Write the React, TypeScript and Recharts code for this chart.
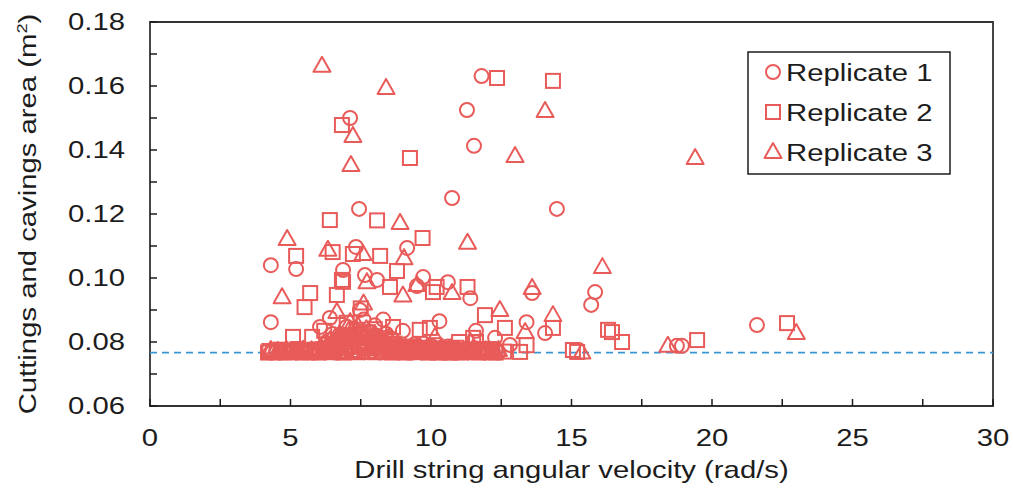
import React from "react";
import {
  ScatterChart,
  Scatter,
  XAxis,
  YAxis,
  ReferenceLine,
  ReferenceArea,
} from "recharts";

// axis ticks (minor every 2.5 / 0.01, labels on the majors)
const X_TICKS = [0, 2.5, 5, 7.5, 10, 12.5, 15, 17.5, 20, 22.5, 25, 27.5, 30];
const X_LABELS = [0, 5, 10, 15, 20, 25, 30];
const Y_TICKS = [0.06, 0.07, 0.08, 0.09, 0.1, 0.11, 0.12, 0.13, 0.14, 0.15, 0.16, 0.17, 0.18];
const Y_LABELS = [0.06, 0.08, 0.1, 0.12, 0.14, 0.16, 0.18];
const BASELINE = 0.0767;

const SERIES_NAMES = ["Replicate 1", "Replicate 2", "Replicate 3"];

// [angular velocity, area]
const rep1: [number, number][] = [
  [11.8, 0.1631], [11.28, 0.1525], [7.12, 0.15], [11.53, 0.1413], [10.75, 0.125],
  [14.48, 0.1216], [7.44, 0.1216], [7.33, 0.1097], [9.15, 0.1094], [4.3, 0.104],
  [5.2, 0.1028], [6.87, 0.1025], [7.65, 0.1009], [8.08, 0.0994], [9.72, 0.1003],
  [10.6, 0.0987], [9.5, 0.0975], [11.4, 0.0937], [13.6, 0.0953], [15.84, 0.0956],
  [15.7, 0.0916], [13.4, 0.0862], [14.06, 0.0828], [12.28, 0.0813], [12.81, 0.0791],
  [18.75, 0.0788], [18.93, 0.0788], [21.6, 0.0853], [4.3, 0.0862], [7.47, 0.09],
  [6.4, 0.0875], [6.05, 0.0847], [8.3, 0.087], [10.3, 0.0865], [11.6, 0.0835], [9.0, 0.0835],
  [4.3, 0.0767], [4.6, 0.0767], [4.9, 0.0768], [5.2, 0.0767], [5.5, 0.0769], [5.8, 0.0767],
  [6.0, 0.0772], [6.2, 0.0768], [6.4, 0.0776], [6.6, 0.0767], [6.7, 0.0783], [6.8, 0.077],
  [6.9, 0.0792], [7.0, 0.0768], [7.1, 0.0778], [7.2, 0.0802], [7.3, 0.077], [7.4, 0.0786],
  [7.5, 0.0815], [7.6, 0.0768], [7.7, 0.0796], [7.8, 0.0832], [7.9, 0.0772], [8.0, 0.0785],
  [8.1, 0.0806], [8.2, 0.0767], [8.3, 0.079], [8.5, 0.0772], [8.6, 0.081], [8.8, 0.0768],
  [9.0, 0.078], [9.2, 0.0767], [9.4, 0.0792], [9.6, 0.077], [9.8, 0.0782], [10.0, 0.0767],
  [10.2, 0.0775], [10.4, 0.0768], [10.6, 0.0786], [10.8, 0.0767], [11.0, 0.0776], [11.3, 0.0768],
  [11.6, 0.078], [11.9, 0.0767], [12.2, 0.0772], [12.4, 0.0767], [6.5, 0.0825], [7.0, 0.0848],
  [7.6, 0.087], [8.0, 0.0852], [6.8, 0.0815], [8.4, 0.0826], [7.3, 0.0835],
  [4.35, 0.0772], [4.75, 0.0775], [5.05, 0.0772], [5.35, 0.0776], [5.65, 0.0772], [5.95, 0.0778],
  [6.25, 0.0782], [6.45, 0.079], [6.65, 0.08], [6.85, 0.0808], [7.05, 0.0812], [7.25, 0.0822],
  [7.45, 0.0828], [7.65, 0.0818], [7.85, 0.081], [8.05, 0.082], [8.25, 0.0805], [8.45, 0.0795],
  [8.65, 0.0785], [8.85, 0.079], [9.05, 0.0772], [9.25, 0.0785], [9.45, 0.0772], [9.65, 0.078],
  [9.85, 0.0772], [10.05, 0.0785], [10.25, 0.077], [10.45, 0.0778], [10.65, 0.0772], [10.85, 0.078],
  [11.05, 0.077], [11.25, 0.0778], [11.45, 0.077], [11.75, 0.0775], [12.05, 0.077], [12.3, 0.0778],
];

const rep2: [number, number][] = [
  [12.35, 0.1625], [14.34, 0.1616], [6.83, 0.1478], [9.25, 0.1375], [6.4, 0.1181],
  [8.08, 0.118], [9.7, 0.1125], [5.2, 0.1069], [6.5, 0.1081], [7.22, 0.1075],
  [8.19, 0.1069], [6.83, 0.0994], [8.79, 0.1022], [8.54, 0.0972], [5.7, 0.0953],
  [5.5, 0.0909], [6.65, 0.0947], [6.87, 0.0988], [10.2, 0.0972], [11.3, 0.0972],
  [10.07, 0.0956], [11.92, 0.0884], [12.63, 0.0844], [14.34, 0.0844], [11.5, 0.0813],
  [11.0, 0.08], [16.3, 0.0838], [16.44, 0.0831], [16.8, 0.08], [13.17, 0.0769],
  [15.05, 0.0775], [15.2, 0.0769], [19.47, 0.0806], [22.67, 0.0859], [5.09, 0.0816],
  [5.77, 0.0816], [8.65, 0.0847], [9.96, 0.0844], [9.6, 0.0838], [7.5, 0.0905],
  [11.6, 0.08], [13.4, 0.079],
  [4.2, 0.0767], [4.5, 0.0768], [4.8, 0.0767], [5.1, 0.077], [5.4, 0.0767], [5.7, 0.0768],
  [6.0, 0.0767], [6.3, 0.078], [6.5, 0.0768], [6.7, 0.0792], [6.9, 0.0767], [7.1, 0.0805],
  [7.2, 0.0775], [7.4, 0.0768], [7.5, 0.0822], [7.7, 0.078], [7.9, 0.08], [8.0, 0.0768],
  [8.2, 0.0812], [8.4, 0.0776], [8.6, 0.0767], [8.7, 0.0795], [8.9, 0.0772], [9.1, 0.0767],
  [9.3, 0.0785], [9.5, 0.0768], [9.7, 0.0778], [9.9, 0.0767], [10.1, 0.079], [10.3, 0.0767],
  [10.5, 0.0772], [10.7, 0.0767], [10.9, 0.0782], [11.1, 0.0767], [11.4, 0.0774], [11.7, 0.0767],
  [12.0, 0.0778], [12.3, 0.0767], [12.6, 0.077], [6.2, 0.0835], [7.0, 0.086], [8.0, 0.084],
  [4.25, 0.0772], [4.65, 0.0776], [4.95, 0.0772], [5.25, 0.0778], [5.55, 0.0772], [5.85, 0.0776],
  [6.15, 0.0775], [6.35, 0.0795], [6.55, 0.0805], [6.75, 0.078], [6.95, 0.082], [7.15, 0.079],
  [7.35, 0.0838], [7.55, 0.08], [7.75, 0.083], [7.95, 0.079], [8.15, 0.0795], [8.35, 0.081],
  [8.55, 0.078], [8.75, 0.0775], [8.95, 0.0785], [9.15, 0.0778], [9.35, 0.077], [9.55, 0.0782],
  [9.75, 0.077], [9.95, 0.0778], [10.15, 0.0772], [10.35, 0.078], [10.55, 0.0768], [10.75, 0.0776],
  [10.95, 0.077], [11.25, 0.0772], [11.55, 0.0776], [11.85, 0.0772], [12.15, 0.0768],
];

const rep3: [number, number][] = [
  [6.12, 0.1663], [8.4, 0.1594], [14.06, 0.1522], [7.22, 0.1444], [12.99, 0.1381],
  [19.4, 0.1375], [7.15, 0.1353], [8.9, 0.1172], [4.88, 0.1122], [11.3, 0.111],
  [6.33, 0.1088], [7.58, 0.1075], [9.04, 0.1062], [16.1, 0.1034], [7.72, 0.0987],
  [9.5, 0.0978], [13.6, 0.0969], [4.7, 0.094], [10.75, 0.0953], [12.45, 0.09],
  [14.34, 0.0884], [13.35, 0.0831], [10.14, 0.0816], [15.37, 0.0767], [18.43, 0.0788],
  [23.0, 0.0828], [9.0, 0.0945], [6.65, 0.0894], [7.12, 0.0862], [7.6, 0.092], [11.4, 0.08],
  [4.4, 0.0768], [4.7, 0.0767], [5.0, 0.0769], [5.3, 0.0767], [5.6, 0.0768], [5.9, 0.077],
  [6.1, 0.0767], [6.3, 0.0786], [6.5, 0.0772], [6.6, 0.08], [6.8, 0.0767], [6.9, 0.0815],
  [7.0, 0.0782], [7.2, 0.0835], [7.3, 0.0767], [7.4, 0.085], [7.6, 0.079], [7.8, 0.0767],
  [7.9, 0.0815], [8.1, 0.078], [8.3, 0.0767], [8.4, 0.08], [8.6, 0.077], [8.8, 0.079],
  [9.0, 0.0767], [9.2, 0.0776], [9.4, 0.0767], [9.6, 0.0785], [9.8, 0.0768], [10.0, 0.0778],
  [10.2, 0.0767], [10.4, 0.0782], [10.6, 0.0767], [10.9, 0.0772], [11.2, 0.0767], [11.5, 0.078],
  [11.8, 0.0768], [12.1, 0.0767], [12.4, 0.0775],
  [4.3, 0.0775], [4.55, 0.0772], [4.85, 0.0776], [5.15, 0.0772], [5.45, 0.0776], [5.75, 0.0774],
  [6.05, 0.078], [6.2, 0.0795], [6.4, 0.0805], [6.6, 0.0815], [6.75, 0.0825], [6.95, 0.08],
  [7.1, 0.084], [7.3, 0.0812], [7.5, 0.08], [7.7, 0.084], [7.9, 0.079], [8.0, 0.0825],
  [8.2, 0.079], [8.5, 0.0815], [8.7, 0.0778], [8.9, 0.0772], [9.1, 0.0782], [9.3, 0.0772],
  [9.5, 0.0778], [9.7, 0.0768], [9.9, 0.0782], [10.1, 0.0772], [10.3, 0.0776], [10.5, 0.0768],
  [10.7, 0.078], [11.0, 0.0772], [11.3, 0.0776], [11.6, 0.077], [11.95, 0.0774], [12.25, 0.0768],
];

const RED = "#e85b59";
const INK = "#1c1c1c";
const FONT = "'Liberation Sans', Arial, sans-serif";
const STRETCH = 1.22;

const toPts = (arr: [number, number][]) => arr.map(([x, y]) => ({ x, y }));

function SText({ x, y, anchor = "start", size = 24, rotate, children }: any) {
  const t = `translate(${x},${y})${rotate ? ` rotate(${rotate})` : ""} scale(${STRETCH},1)`;
  return (
    <text transform={t} textAnchor={anchor} fontSize={size} fontFamily={FONT} fill={INK}>
      {children}
    </text>
  );
}

const Circle = ({ cx, cy }: any) => (
  <circle cx={cx} cy={cy} r={7} fill="none" stroke={RED} strokeWidth={2} />
);
const Square = ({ cx, cy }: any) => (
  <rect x={cx - 7} y={cy - 7} width={14} height={14} fill="none" stroke={RED} strokeWidth={2} />
);
const Triangle = ({ cx, cy }: any) => (
  <polygon
    points={`${cx},${cy - 9} ${cx - 8.5},${cy + 6} ${cx + 8.5},${cy + 6}`}
    fill="none"
    stroke={RED}
    strokeWidth={2}
    strokeLinejoin="round"
  />
);
const SHAPES = [Circle, Square, Triangle];

const XTick = ({ x, y, payload }: any) => (
  <g>
    <line x1={x} x2={x} y1={y} y2={y - 7} stroke={INK} strokeWidth={1.5} />
    {X_LABELS.includes(payload.value) && (
      <SText x={x} y={y + 40} anchor="middle">{payload.value}</SText>
    )}
  </g>
);

const YTick = ({ x, y, payload }: any) => {
  const major = Y_LABELS.some((v) => Math.abs(v - payload.value) < 1e-9);
  return (
    <g>
      <line x1={x} x2={x + 7} y1={y} y2={y} stroke={INK} strokeWidth={1.5} />
      {major && (
        <SText x={x - 25} y={y + 8} anchor="end">{payload.value.toFixed(2)}</SText>
      )}
    </g>
  );
};

// legend drawn as an overlay so it doesn't eat into the plot area
const LegendBox = () => (
  <svg width={204} height={124} style={{ position: "absolute", left: 747, top: 51 }}>
    <rect x={1} y={1} width={202} height={122} fill="#fff" stroke={INK} strokeWidth={1.5} />
    {SERIES_NAMES.map((name, i) => {
      const Shape = SHAPES[i];
      const cy = 21 + i * 40;
      return (
        <g key={name}>
          <Shape cx={26} cy={cy} />
          <SText x={39} y={cy + 9}>{name}</SText>
        </g>
      );
    })}
  </svg>
);

export default function App() {
  const data = [rep1, rep2, rep3].map(toPts);
  return (
    <div style={{ position: "absolute", left: 0, top: 0, width: 1013, height: 493, background: "#fff" }}>
      <ScatterChart width={1013} height={493} margin={{ top: 22, right: 20, bottom: 7, left: 50 }}>
        <XAxis
          type="number"
          dataKey="x"
          domain={[0, 30]}
          ticks={X_TICKS}
          interval={0}
          tickSize={0}
          tickMargin={0}
          axisLine={false}
          tickLine={false}
          tick={<XTick />}
          height={80}
          label={({ viewBox }: any) => (
            <SText x={viewBox.x + viewBox.width / 2} y={478} anchor="middle">
              Drill string angular velocity (rad/s)
            </SText>
          )}
        />
        <YAxis
          type="number"
          dataKey="y"
          domain={[0.06, 0.18]}
          ticks={Y_TICKS}
          interval={0}
          tickSize={0}
          tickMargin={0}
          axisLine={false}
          tickLine={false}
          tick={<YTick />}
          width={100}
          label={({ viewBox }: any) => (
            <SText x={36} y={viewBox.y + viewBox.height / 2} anchor="middle" rotate={-90}>
              Cuttings and cavings area (m
              <tspan dy={-9} fontSize={15}>2</tspan>
              <tspan dy={9}>)</tspan>
            </SText>
          )}
        />
        <ReferenceArea x1={0} x2={30} y1={0.06} y2={0.18} fill="none" stroke="#333" strokeWidth={1.8} fillOpacity={0} />
        <ReferenceLine y={BASELINE} stroke="#3a95d3" strokeDasharray="7 5" strokeWidth={1.8} />
        {data.map((pts, i) => (
          <Scatter
            key={SERIES_NAMES[i]}
            name={SERIES_NAMES[i]}
            data={pts}
            shape={SHAPES[i]}
            isAnimationActive={false}
          />
        ))}
      </ScatterChart>
      <LegendBox />
    </div>
  );
}
